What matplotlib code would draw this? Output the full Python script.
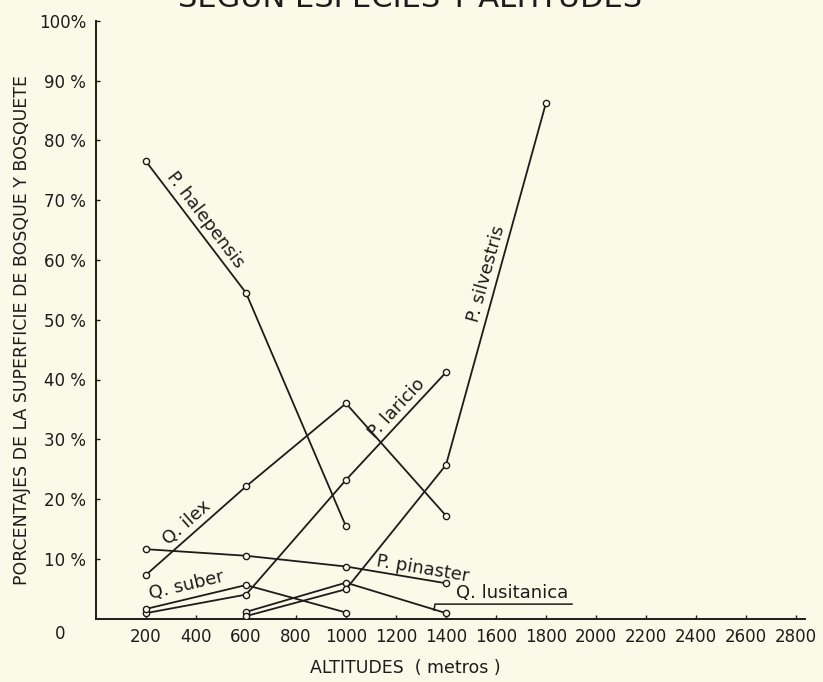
import numpy as np
import matplotlib
matplotlib.use("Agg")
import matplotlib.pyplot as plt

# Data (altitude in m, % of forest surface)
x_ticks = [200, 400, 600, 800, 1000, 1200, 1400, 1600, 1800, 2000, 2200, 2400, 2600, 2800]
y_ticks = [10, 20, 30, 40, 50, 60, 70, 80, 90, 100]
y_tick_labels = ["10 %", "20 %", "30 %", "40 %", "50 %", "60 %", "70 %", "80 %", "90 %", "100%"]

halepensis_x = [200, 600, 1000]
halepensis_y = [76.5, 54.5, 15.4]
ilex_x = [200, 600, 1000, 1400]
ilex_y = [7.3, 22.1, 36.0, 17.2]
laricio_x = [200, 600, 1000, 1400]
laricio_y = [0.9, 4.0, 23.2, 41.2]
pinaster_x = [200, 600, 1000, 1400]
pinaster_y = [11.6, 10.5, 8.7, 5.9]
suber_x = [200, 600, 1000]
suber_y = [1.6, 5.6, 1.0]
lusitanica_x = [600, 1000, 1400]
lusitanica_y = [1.1, 6.0, 0.9]
silvestris_x = [600, 1000, 1400, 1800]
silvestris_y = [0.4, 4.9, 25.7, 86.3]

paper = "#fbf9e8"
ink = "#1c1c1c"

fig = plt.figure(figsize=(8.23, 6.82), dpi=100, facecolor=paper)
ax = fig.add_axes([96 / 823, 1 - 618.5 / 682, 709 / 823, 597.5 / 682])
ax.set_facecolor(paper)
ax.set_xlim(0, 2836)
ax.set_ylim(0, 100)

series = [
    (halepensis_x, halepensis_y),
    (ilex_x, ilex_y),
    (laricio_x, laricio_y),
    (pinaster_x, pinaster_y),
    (suber_x, suber_y),
    (lusitanica_x, lusitanica_y),
    (silvestris_x, silvestris_y),
]
for xs, ys in series:
    ax.plot(xs, ys, color=ink, lw=1.3, marker="o", ms=4.5, mfc=paper,
            mec=ink, mew=1.0, zorder=3)


def label_on(xs, ys, i, frac, text, pad=2.0):
    # put a label along segment i of a series, rotated with the line
    p0 = ax.transData.transform((xs[i], ys[i]))
    p1 = ax.transData.transform((xs[i + 1], ys[i + 1]))
    ang = np.arctan2(p1[1] - p0[1], p1[0] - p0[0])
    if ang > np.pi / 2:
        ang -= np.pi
    if ang < -np.pi / 2:
        ang += np.pi
    px = xs[i] + frac * (xs[i + 1] - xs[i])
    py = ys[i] + frac * (ys[i + 1] - ys[i])
    ax.annotate(text, xy=(px, py), xytext=(-np.sin(ang) * pad, np.cos(ang) * pad),
                textcoords="offset points", rotation=np.degrees(ang),
                rotation_mode="anchor", ha="center", va="bottom",
                fontsize=13, color=ink)


label_on(halepensis_x, halepensis_y, 0, 0.50, "P. halepensis")
label_on(silvestris_x, silvestris_y, 2, 0.52, "P. silvestris")
label_on(laricio_x, laricio_y, 2, 0.59, "P. laricio")
label_on(ilex_x, ilex_y, 0, 0.49, "Q. ilex")
label_on(pinaster_x, pinaster_y, 2, 0.75, "P. pinaster", pad=1.0)
label_on(suber_x, suber_y, 0, 0.44, "Q. suber", pad=3.0)

# Q. lusitanica: underlined label with a leader down to its last segment
lx, ly = lusitanica_x[-1], lusitanica_y[-1]
ax.annotate("Q. lusitanica", xy=(lx, ly), xytext=(66, 11), textcoords="offset pixels",
            ha="center", va="bottom", fontsize=13, color=ink)
trans = ax.transData
x0, y0 = trans.transform((lx, ly))
inv = trans.inverted()
uc = inv.transform((x0 - 12, y0 + 3))
ua = inv.transform((x0 - 11, y0 + 9))
ub = inv.transform((x0 + 126, y0 + 9))
ax.plot([uc[0], ua[0], ub[0]], [uc[1], ua[1], ub[1]], color=ink, lw=1.1, clip_on=False)

for s in ["top", "right"]:
    ax.spines[s].set_visible(False)
for s in ["left", "bottom"]:
    ax.spines[s].set_color(ink)
    ax.spines[s].set_linewidth(1.4)

ax.set_xticks(x_ticks)
ax.set_xticklabels([str(v) for v in x_ticks])
ax.set_yticks(y_ticks)
ax.set_yticklabels(y_tick_labels)
ax.tick_params(direction="in", length=3, width=1, colors=ink, labelsize=12, pad=7)

fig.text(60 / 823, 1 - 634 / 682, "0", fontsize=12, color=ink, ha="center", va="center")
fig.text(405 / 823, 1 - 668 / 682, "ALTITUDES  ( metros )", fontsize=12.5, color=ink,
         ha="center", va="center")
fig.text(22 / 823, 1 - 330 / 682, "PORCENTAJES DE LA SUPERFICIE DE BOSQUE Y BOSQUETE",
         rotation=90, fontsize=12.5, color=ink, ha="center", va="center")
# title, cut off by the top edge of the scan
fig.text(410 / 823, 1 - 7 / 682, "SEGUN ESPECIES Y ALTITUDES", fontsize=22,
         color=ink, ha="center", va="baseline")

fig.savefig("out.png", dpi=100, facecolor=paper)
